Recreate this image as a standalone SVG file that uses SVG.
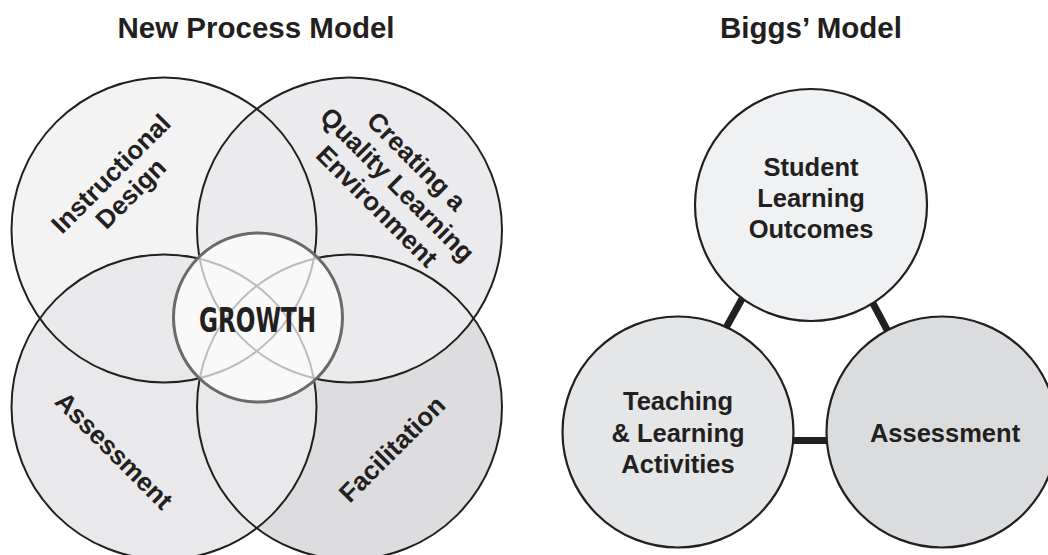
<svg xmlns="http://www.w3.org/2000/svg" width="1048" height="555" viewBox="0 0 1048 555">
  <style>
    .title { font-family: "Liberation Sans", Arial, sans-serif; font-weight: bold; font-size: 29.5px; fill: #231f20; text-anchor: middle; }
    .label { font-family: "Liberation Sans", Arial, sans-serif; font-weight: bold; font-size: 26px; fill: #231f20; text-anchor: middle; }
    .blabel { font-family: "Liberation Sans", Arial, sans-serif; font-weight: bold; font-size: 25.5px; fill: #231f20; text-anchor: middle; }
    .growth { font-family: "Liberation Sans Narrow", "DejaVu Sans Condensed", "Liberation Sans", sans-serif; font-weight: bold; font-size: 33px; fill: #231f20; text-anchor: middle; }
    .ring { fill: none; stroke: #231f20; stroke-width: 2; }
    .bcircle { stroke: #231f20; stroke-width: 2.2; }
    .bar { stroke: #231f20; stroke-width: 7; stroke-linecap: butt; }
  </style>

  <!-- Titles -->
  <text class="title" x="256" y="38">New Process Model</text>
  <text class="title" x="811" y="38">Biggs’ Model</text>

  <!-- Four-petal process model: fills stacked so the overlaps take the upper colour -->
  <g id="venn-fills">
    <circle cx="164" cy="230" r="152.5" fill="#f3f3f4"/>
    <circle cx="349.5" cy="407" r="152.5" fill="#dddddf"/>
    <circle cx="349.5" cy="230" r="152.5" fill="#ebebed"/>
    <circle cx="164" cy="407" r="152.5" fill="#e9e9eb"/>
  </g>

  <g id="instructional-design">
    <circle class="ring" cx="164" cy="230" r="152.5"/>
    <g transform="translate(120.75 183.5) rotate(-45)">
      <text class="label" x="0" y="-5">Instructional</text>
      <text class="label" x="0" y="23">Design</text>
    </g>
  </g>

  <g id="quality-environment">
    <circle class="ring" cx="349.5" cy="230" r="152.5"/>
    <g transform="translate(397.5 184.5) rotate(45)">
      <text class="label" x="-3" y="-21">Creating a</text>
      <text class="label" x="0" y="9">Quality Learning</text>
      <text class="label" x="1" y="39">Environment</text>
    </g>
  </g>

  <g id="assessment">
    <circle class="ring" cx="164" cy="407" r="152.5"/>
    <text class="label" x="0" y="9" transform="translate(114 450.5) rotate(45)">Assessment</text>
  </g>

  <g id="facilitation">
    <circle class="ring" cx="349.5" cy="407" r="152.5"/>
    <text class="label" x="0" y="9" transform="translate(392 449) rotate(-45)">Facilitation</text>
  </g>

  <g id="growth">
    <circle cx="258" cy="317.5" r="84.5" fill="#ffffff" fill-opacity="0.7" stroke="#6a6a6a" stroke-width="3"/>
    <text class="growth" x="257.5" y="332" textLength="117" lengthAdjust="spacingAndGlyphs">GROWTH</text>
  </g>

  <!-- Biggs' model: links drawn first, circles cover their ends -->
  <g id="connectors">
    <line class="bar" x1="748" y1="288" x2="722" y2="335"/>
    <line class="bar" x1="868" y1="294" x2="893" y2="341"/>
    <line class="bar" x1="785" y1="440.5" x2="836" y2="440.5"/>
  </g>

  <g id="student-learning-outcomes">
    <circle class="bcircle" cx="811" cy="205" r="116" fill="#f0f1f2"/>
    <text class="blabel" x="811" y="176">Student</text>
    <text class="blabel" x="811" y="207">Learning</text>
    <text class="blabel" x="811" y="238">Outcomes</text>
  </g>

  <g id="teaching-learning-activities">
    <circle class="bcircle" cx="678" cy="432" r="115.5" fill="#e5e6e7"/>
    <text class="blabel" x="678" y="410">Teaching</text>
    <text class="blabel" x="678" y="442">&amp; Learning</text>
    <text class="blabel" x="678" y="473">Activities</text>
  </g>

  <g id="biggs-assessment">
    <circle class="bcircle" cx="942" cy="432" r="115.5" fill="#dbdcdd"/>
    <text class="blabel" x="945" y="442">Assessment</text>
  </g>
</svg>
